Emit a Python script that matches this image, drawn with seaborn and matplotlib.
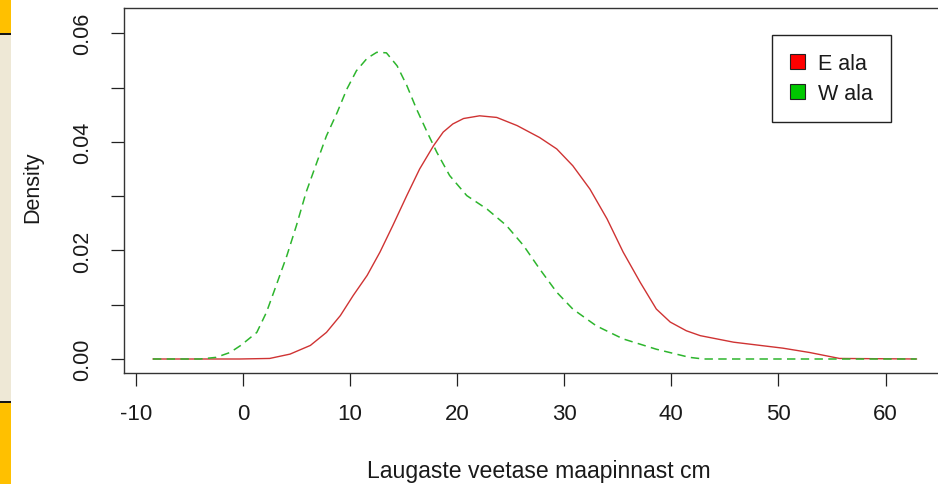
import numpy as np
import pandas as pd
import matplotlib
matplotlib.use("Agg")
import matplotlib.pyplot as plt
from matplotlib.patches import Patch, Rectangle
import seaborn as sns

# ---- data ----
e_x = [-8.4, -0.3, 2.5, 4.4, 6.3, 7.8, 9.1, 10.3, 11.6, 12.8, 14.0, 15.3, 16.5, 17.8,
       18.7, 19.6, 20.6, 22.1, 23.7, 25.6, 27.7, 29.3, 30.8, 32.4, 34.0, 35.5, 37.1,
       38.6, 39.9, 41.4, 42.7, 45.8, 50.4, 52.9, 55.7, 62.9]
e_y = [0.0, 0.0, 0.0001, 0.0009, 0.0025, 0.0049, 0.0080, 0.0117, 0.0154, 0.0197,
       0.0246, 0.0301, 0.0350, 0.0393, 0.0418, 0.0433, 0.0443, 0.0448, 0.0445, 0.0430,
       0.0408, 0.0387, 0.0356, 0.0313, 0.0258, 0.0197, 0.0141, 0.0092, 0.0068, 0.0052,
       0.0043, 0.0031, 0.0020, 0.0012, 0.0001, 0.0]

w_x = [-8.4, -4.0, -2.5, -1.2, -0.2, 1.3, 2.2, 3.1, 4.1, 5.0, 5.9, 6.9, 7.8, 8.8, 9.7,
       10.6, 11.6, 12.5, 13.4, 14.4, 15.3, 16.2, 17.2, 18.1, 19.3, 20.9, 22.8, 24.6,
       26.2, 27.7, 29.3, 30.8, 33.0, 35.5, 38.6, 41.7, 43.0, 62.9]
w_y = [0.0, 0.0, 0.0003, 0.0012, 0.0025, 0.0049, 0.0086, 0.0135, 0.0190, 0.0246,
       0.0307, 0.0362, 0.0411, 0.0454, 0.0497, 0.0531, 0.0554, 0.0565, 0.0564, 0.0540,
       0.0504, 0.0461, 0.0418, 0.0381, 0.0338, 0.0301, 0.0276, 0.0246, 0.0209, 0.0166,
       0.0123, 0.0092, 0.0061, 0.0037, 0.0018, 0.0003, 0.0, 0.0]

series_labels = ["E ala", "W ala"]
x_ticks = [-10, 0, 10, 20, 30, 40, 50, 60]
y_ticks = [0.00, 0.01, 0.02, 0.03, 0.04, 0.05, 0.06]
y_tick_labels = ["0.00", "", "0.02", "", "0.04", "", "0.06"]
x_label = "Laugaste veetase maapinnast cm"
y_label = "Density"

# ---- style ----
sns.set_theme(style="white")
plt.rcParams["font.family"] = ["Liberation Sans", "DejaVu Sans"]

W, H = 938, 485
fig = plt.figure(figsize=(W / 100, H / 100), dpi=100)
fig.patch.set_facecolor("white")

# slide decoration on the left edge
def frect(x0, y0, x1, y1, color):
    fig.patches.append(Rectangle((x0 / W, 1 - y1 / H), (x1 - x0) / W, (y1 - y0) / H,
                                 transform=fig.transFigure, facecolor=color,
                                 edgecolor="none", zorder=0))
frect(0, 0, 11, 34, "#FFC000")
frect(0, 34, 11, 36, "#151515")
frect(0, 36, 11, 402, "#EEE8D6")
frect(0, 402, 11, 404, "#151515")
frect(0, 404, 11, 485, "#FFC000")

left, right, top, bottom = 124, 948, 9, 374
ax = fig.add_axes([left / W, 1 - bottom / H, (right - left) / W, (bottom - top) / H])
ax.set_facecolor("white")

df_e = pd.DataFrame({"x": e_x, "y": e_y})
df_w = pd.DataFrame({"x": w_x, "y": w_y})
sns.lineplot(data=df_e, x="x", y="y", ax=ax, color="#CF3333", linewidth=1.0,
             sort=False, estimator=None)
sns.lineplot(data=df_w, x="x", y="y", ax=ax, color="#2DB52D", linewidth=1.1,
             sort=False, estimator=None)
ax.lines[1].set_dashes((5.5, 3.5))

ax.set_xlim(-11.1, 65.83)
ax.set_ylim(-0.00258, 0.06466)
ax.set_xticks(x_ticks)
ax.set_xticklabels([str(v) for v in x_ticks])
ax.set_yticks(y_ticks)
ax.set_yticklabels(y_tick_labels, rotation=90, va="center")

for s in ax.spines.values():
    s.set_color("#333333")
    s.set_linewidth(1.0)
    s.set_visible(True)

ax.tick_params(axis="both", direction="out", length=9.5, width=0.9, color="#222222",
               labelsize=15.5, labelcolor="#1a1a1a")
ax.tick_params(axis="x", pad=12.0, bottom=True, labelsize=16)
ax.tick_params(axis="y", pad=13.0, left=True)

ax.set_xlabel(x_label, fontsize=16.6, color="#1a1a1a", va="center")
ax.xaxis.set_label_coords((539 - left) / (right - left), -0.268)
ax.set_ylabel(y_label, fontsize=15.5, color="#1a1a1a", va="center")
ax.yaxis.set_label_coords((33 - left) / (right - left), 0.512)

handles = [Patch(facecolor="#FF0000", edgecolor="#222222", linewidth=0.8),
           Patch(facecolor="#00C800", edgecolor="#222222", linewidth=0.8)]
leg = ax.legend(handles, series_labels, loc="upper left",
                bbox_to_anchor=(771.5 / W, 1 - 35.5 / H), bbox_transform=fig.transFigure,
                fontsize=15.5, frameon=True, fancybox=False, shadow=False,
                borderpad=0.85, labelspacing=0.42, handlelength=0.7, handleheight=0.7,
                handletextpad=0.6, borderaxespad=0.0)
leg.get_frame().set_edgecolor("#222222")
leg.get_frame().set_linewidth(1.0)
leg.get_frame().set_alpha(1.0)
for t in leg.get_texts():
    t.set_color("#1a1a1a")

fig.savefig("out.png", dpi=100)
